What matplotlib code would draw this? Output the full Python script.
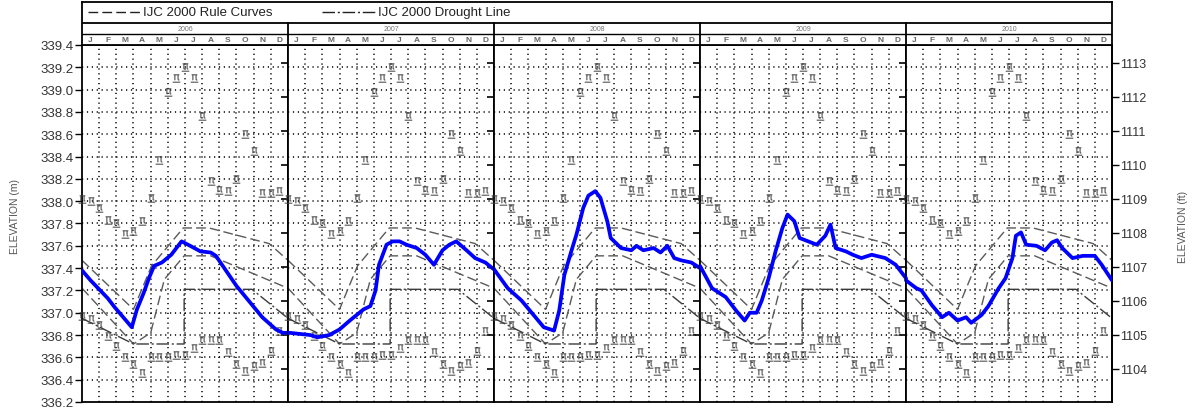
import numpy as np
import matplotlib.pyplot as plt
from matplotlib.font_manager import FontProperties
from matplotlib.path import Path
from matplotlib.textpath import TextPath

plt.rcParams['font.family'] = ['Liberation Sans', 'DejaVu Sans']

years = [2006, 2007, 2008, 2009, 2010]
month_letters = ['J', 'F', 'M', 'A', 'M', 'J', 'J', 'A', 'S', 'O', 'N', 'D']

# IJC 2000 rule curves and drought line (month of year, elevation in m)
upper_rule_month = [0.0, 3.0, 4.05, 5.9, 7.4, 10.9, 12.0]
upper_rule = [337.47, 337.03, 337.42, 337.76, 337.76, 337.62, 337.47]
lower_rule_month = [0.0, 3.0, 4.0, 4.8, 5.95, 7.5, 12.0]
lower_rule = [337.22, 336.72, 336.82, 337.30, 337.51, 337.51, 337.22]
drought_month = [0.0, 3.0, 5.95, 5.95, 9.9, 12.0]
drought_line = [336.95, 336.72, 336.72, 337.21, 337.21, 336.95]

# semi-monthly record high / low levels, repeated every year
extreme_month = [0.0, 0.5, 1.0, 1.5, 2.0, 2.5, 3.0, 3.5, 4.0, 4.5, 5.0, 5.5,
                 6.0, 6.5, 7.0, 7.5, 8.0, 8.5, 9.0, 9.5, 10.0, 10.5, 11.0, 11.5]
record_high = [338.02, 338.00, 337.94, 337.83, 337.80, 337.71, 337.73, 337.82,
               338.03, 338.37, 338.98, 339.10, 339.20, 339.10, 338.76, 338.18,
               338.10, 338.09, 338.20, 338.60, 338.45, 338.07, 338.07, 338.09]
record_low = [336.97, 336.94, 336.89, 336.79, 336.70, 336.60, 336.54, 336.46,
              336.60, 336.60, 336.60, 336.62, 336.62, 336.68, 336.76, 336.76,
              336.76, 336.65, 336.54, 336.48, 336.52, 336.55, 336.66, 336.84]

# observed lake levels (month of year, elevation in m)
obs_month_2006 = [0.0, 0.5, 1.0, 1.5, 1.9, 2.4, 2.9, 3.2, 3.6, 3.9, 4.2, 4.65,
                  5.2, 5.8, 6.3, 6.9, 7.5, 7.8, 8.2, 9.0, 9.8, 10.5, 11.3, 11.7]
obs_level_2006 = [337.38, 337.29, 337.21, 337.13, 337.05, 336.96, 336.87, 337.03,
                  337.18, 337.31, 337.42, 337.45, 337.52, 337.64, 337.60, 337.55,
                  337.54, 337.51, 337.42, 337.24, 337.09, 336.96, 336.85, 336.82]
obs_month_2007 = [0.1, 0.7, 1.3, 1.7, 2.4, 3.0, 3.6, 4.4, 4.8, 5.1, 5.3, 5.74, 6.1,
                  6.5, 6.9, 7.5, 8.0, 8.5, 9.0, 9.4, 9.8, 10.4, 10.9, 11.5, 11.9]
obs_level_2007 = [336.82, 336.81, 336.80, 336.78, 336.80, 336.85, 336.93, 337.03,
                  337.06, 337.20, 337.43, 337.61, 337.64, 337.64, 337.61, 337.58,
                  337.52, 337.43, 337.56, 337.61, 337.64, 337.56, 337.49, 337.45,
                  337.40]
obs_month_2008 = [0.0, 0.8, 1.6, 2.3, 2.9, 3.5, 3.8, 4.1, 4.5, 4.8, 5.2, 5.5, 5.9,
                  6.2, 6.6, 6.8, 7.4, 8.0, 8.3, 8.7, 9.3, 9.7, 10.1, 10.5, 10.9,
                  11.5, 12.0]
obs_level_2008 = [337.39, 337.22, 337.11, 336.98, 336.87, 336.84, 337.02, 337.34,
                  337.55, 337.70, 337.94, 338.05, 338.09, 338.03, 337.82, 337.67,
                  337.58, 337.56, 337.60, 337.56, 337.58, 337.54, 337.60, 337.49,
                  337.47, 337.45, 337.40]
obs_month_2009 = [0.0, 0.7, 1.5, 2.1, 2.6, 2.9, 3.3, 3.6, 4.0, 4.4, 4.8, 5.1, 5.5,
                  5.8, 6.3, 6.8, 7.3, 7.6, 7.9, 8.5, 8.9, 9.4, 10.0, 10.8, 11.4,
                  12.0]
obs_level_2009 = [337.42, 337.22, 337.14, 337.02, 336.93, 337.00, 337.00, 337.11,
                  337.31, 337.55, 337.76, 337.88, 337.82, 337.67, 337.64, 337.61,
                  337.69, 337.79, 337.58, 337.55, 337.52, 337.49, 337.52, 337.49,
                  337.43, 337.31]
obs_month_2010 = [0.0, 0.6, 0.9, 1.5, 2.1, 2.5, 3.0, 3.5, 3.8, 4.4, 4.8, 5.4, 5.8,
                  6.2, 6.4, 6.7, 7.0, 7.6, 8.1, 8.5, 8.8, 9.1, 9.7, 10.3, 11.0,
                  11.4, 12.0]
obs_level_2010 = [337.29, 337.22, 337.20, 337.07, 336.96, 337.00, 336.93, 336.96,
                  336.91, 336.98, 337.06, 337.22, 337.31, 337.49, 337.69, 337.72,
                  337.61, 337.60, 337.56, 337.63, 337.65, 337.58, 337.49, 337.51,
                  337.51, 337.43, 337.29]

obs_months = [obs_month_2006, obs_month_2007, obs_month_2008, obs_month_2009, obs_month_2010]
obs_levels = [obs_level_2006, obs_level_2007, obs_level_2008, obs_level_2009, obs_level_2010]

# one continuous series so the line runs across the year boundaries
obs_x = np.concatenate([np.array(m) + 12 * i for i, m in enumerate(obs_months)])
obs_y = np.concatenate([np.array(v) for v in obs_levels])

M2FT = 1 / 0.3048
W, H = 1195, 410


def frame(x0, y0, x1, y1):
    return [x0 / W, 1 - y1 / H, (x1 - x0) / W, (y1 - y0) / H]


def extreme_marker():
    # small underlined glyph used for the record levels
    glyph = TextPath((0, 0), 'π', size=1, prop=FontProperties(family='DejaVu Sans'))
    bar = Path([(-0.05, -0.22), (0.65, -0.22), (0.65, -0.13), (-0.05, -0.13), (-0.05, -0.22)],
               [Path.MOVETO, Path.LINETO, Path.LINETO, Path.LINETO, Path.CLOSEPOLY])
    path = Path.make_compound_path(glyph, bar)
    verts = path.vertices.copy()
    lo, hi = verts.min(axis=0), verts.max(axis=0)
    verts -= (lo + hi) / 2
    return Path(verts, path.codes)


fig = plt.figure(figsize=(W / 100, H / 100), dpi=100)

left, right, top, bottom = 82, 1112, 46, 403
pw = (right - left) / len(years)
m_ticks = np.round(np.arange(336.2, 339.41, 0.2), 1)
ft_ticks = list(range(1104, 1114))
dots = (0, (0.8, 2.4))
rule_dash = (7, 3)
drought_dash = (9, 2, 1.5, 2)
mark = extreme_marker()

for i, year in enumerate(years):
    ax = fig.add_axes(frame(left + i * pw, top, left + (i + 1) * pw, bottom))
    ax.set_xlim(0, 12)
    ax.set_ylim(336.2, 339.4)

    for m in range(1, 12):
        ax.axvline(m, color='black', lw=1.1, ls=dots, zorder=1)
    for v in m_ticks[1:-1]:
        ax.axhline(v, color='black', lw=1.1, ls=dots, zorder=1)

    ax.plot(upper_rule_month, upper_rule, color='#5a5a5a', lw=1.0, dashes=rule_dash, zorder=2)
    ax.plot(lower_rule_month, lower_rule, color='#5a5a5a', lw=1.0, dashes=rule_dash, zorder=2)
    ax.plot(drought_month, drought_line, color='#3a3a3a', lw=1.0, dashes=drought_dash, zorder=2)

    for rec in (record_high, record_low):
        ax.plot(extreme_month, rec, ls='none', marker=mark, ms=6, mew=0,
                color='#3c3c3c', zorder=3, clip_on=False)

    ax.plot(obs_x - 12 * i, obs_y, color='#0000ff', lw=2.7, zorder=4,
            solid_joinstyle='round', solid_capstyle='round')

    for s in ax.spines.values():
        s.set_linewidth(1.3)
    ax.set_xticks([])
    if i == 0:
        ax.set_yticks(m_ticks)
        ax.set_yticklabels([f'{v:.1f}' for v in m_ticks])
        ax.tick_params(axis='y', direction='out', length=5, width=1, pad=1,
                       labelsize=9.5, labelcolor='#333333')
    else:
        ax.set_yticks([])

    sec = ax.secondary_yaxis('right', functions=(lambda m: m * M2FT, lambda f: f / M2FT))
    sec.set_yticks(ft_ticks)
    sec.spines['right'].set_linewidth(1.3)
    if i == len(years) - 1:
        sec.tick_params(direction='out', length=5, width=1, pad=1,
                        labelsize=9, labelcolor='#333333')
    else:
        sec.tick_params(direction='in', length=5, width=1.2)
        sec.set_yticklabels([])

# header: legend row, year row and month row
hdr = fig.add_axes(frame(left, 3, right, top))
hdr.set_xlim(0, 12 * len(years))
hdr.set_ylim(43, 0)
hdr.set_xticks([])
hdr.set_yticks([])
for s in hdr.spines.values():
    s.set_linewidth(1.3)
hdr.axhline(21, color='black', lw=1.3)
hdr.axhline(32, color='black', lw=1.0)
for i in range(1, len(years)):
    hdr.plot([12 * i, 12 * i], [21, 43], color='black', lw=1.3)
for i, year in enumerate(years):
    hdr.text(12 * i + 6, 26.7, str(year), ha='center', va='center',
             fontsize=5, color='#777777')
    for k, letter in enumerate(month_letters):
        hdr.text(12 * i + k + 0.5, 37.8, letter, ha='center', va='center',
                 fontsize=6, fontweight='bold', color='#666666')

ly = 0.756
hdr.plot([0.006, 0.056], [ly, ly], transform=hdr.transAxes, color='#222222',
         lw=1.0, dashes=rule_dash)
hdr.text(0.059, ly, 'IJC 2000 Rule Curves', transform=hdr.transAxes,
         va='center', fontsize=9.5, color='#222222')
hdr.plot([0.233, 0.284], [ly, ly], transform=hdr.transAxes, color='#222222',
         lw=1.0, dashes=drought_dash)
hdr.text(0.287, ly, 'IJC 2000 Drought Line', transform=hdr.transAxes,
         va='center', fontsize=9.5, color='#222222')

fig.text(15 / W, 1 - 217 / H, 'ELEVATION (m)', rotation=90, ha='center',
         va='center', fontsize=7.5, color='#555555')
fig.text(1183 / W, 1 - 227 / H, 'ELEVATION (ft)', rotation=90, ha='center',
         va='center', fontsize=7.5, color='#555555')

fig.savefig('out.png', dpi=100)
